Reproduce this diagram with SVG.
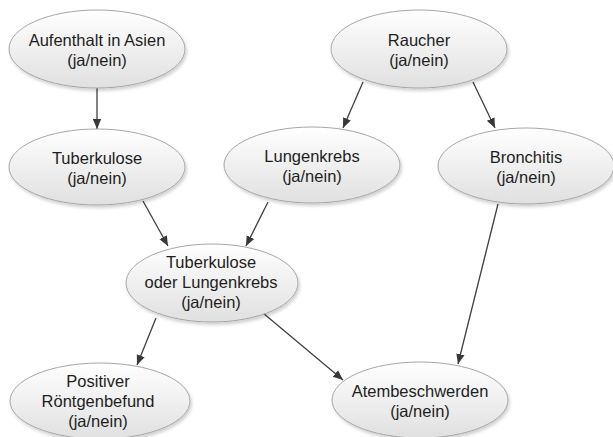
<svg xmlns="http://www.w3.org/2000/svg" width="613" height="437" viewBox="0 0 613 437">
  <defs>
    <linearGradient id="nodeFill" x1="0" y1="0" x2="0" y2="1">
      <stop offset="0" stop-color="#ffffff"/>
      <stop offset="1" stop-color="#e0e0e0"/>
    </linearGradient>
    <filter id="soft" x="-10%" y="-10%" width="130%" height="140%">
      <feDropShadow dx="1.5" dy="2.5" stdDeviation="1.5" flood-color="#000" flood-opacity="0.18"/>
    </filter>
    <marker id="arrow" viewBox="0 0 10 10" refX="10" refY="5" markerWidth="10" markerHeight="10" markerUnits="userSpaceOnUse" orient="auto">
      <path d="M0,0.8 L10,5 L0,9.2 z" fill="#383838"/>
    </marker>
  </defs>
  <style>
    .node ellipse { fill: url(#nodeFill); stroke: #a6a6a6; stroke-width: 1; filter: url(#soft); }
    .node text { font-family: "Liberation Sans", Arial, sans-serif; font-size: 16.5px; fill: #1e1e1e; text-anchor: middle; }
    .edges line { stroke: #404040; stroke-width: 1.3; marker-end: url(#arrow); }
  </style>

  <rect width="613" height="437" fill="#ffffff"/>

  <g class="edges" id="connectors">
    <line x1="97" y1="88" x2="97" y2="129"/>
    <line x1="363" y1="82" x2="343" y2="128"/>
    <line x1="473" y1="82" x2="495" y2="128"/>
    <line x1="143" y1="201" x2="168" y2="246"/>
    <line x1="268" y1="202" x2="246" y2="246"/>
    <line x1="156" y1="318" x2="137" y2="365"/>
    <line x1="263" y1="313" x2="343" y2="380"/>
    <line x1="498" y1="204" x2="458" y2="364"/>
  </g>

  <g class="node" id="asien">
    <ellipse cx="97" cy="49" rx="88" ry="39"/>
    <text x="97" y="46">Aufenthalt in Asien</text>
    <text x="97" y="66">(ja/nein)</text>
  </g>

  <g class="node" id="raucher">
    <ellipse cx="419" cy="49" rx="88" ry="39"/>
    <text x="419" y="46">Raucher</text>
    <text x="419" y="66">(ja/nein)</text>
  </g>

  <g class="node" id="tuberkulose">
    <ellipse cx="97" cy="167" rx="88" ry="38"/>
    <text x="97" y="164">Tuberkulose</text>
    <text x="97" y="184">(ja/nein)</text>
  </g>

  <g class="node" id="lungenkrebs">
    <ellipse cx="312" cy="165" rx="88" ry="38"/>
    <text x="312" y="162">Lungenkrebs</text>
    <text x="312" y="182">(ja/nein)</text>
  </g>

  <g class="node" id="bronchitis">
    <ellipse cx="526" cy="166" rx="88" ry="38"/>
    <text x="526" y="163">Bronchitis</text>
    <text x="526" y="183">(ja/nein)</text>
  </g>

  <g class="node" id="tbc-oder-lk">
    <ellipse cx="212" cy="283" rx="86" ry="39"/>
    <text x="211" y="268">Tuberkulose</text>
    <text x="211" y="288">oder Lungenkrebs</text>
    <text x="211" y="308">(ja/nein)</text>
  </g>

  <g class="node" id="roentgen">
    <ellipse cx="100" cy="401" rx="90" ry="38"/>
    <text x="98" y="387">Positiver</text>
    <text x="98" y="407">Röntgenbefund</text>
    <text x="98" y="427">(ja/nein)</text>
  </g>

  <g class="node" id="atembeschwerden">
    <ellipse cx="420" cy="400" rx="88" ry="38"/>
    <text x="420" y="397">Atembeschwerden</text>
    <text x="420" y="417">(ja/nein)</text>
  </g>
</svg>
